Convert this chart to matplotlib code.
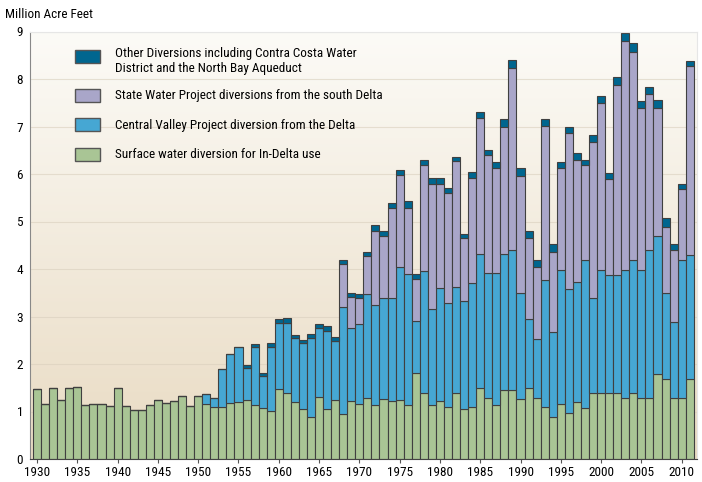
import numpy as np
import matplotlib
matplotlib.use("Agg")
import matplotlib.pyplot as plt
from matplotlib import font_manager
from matplotlib.patches import Rectangle

# ---------------- data ----------------
years = list(range(1930, 2012))

in_delta = [1.47, 1.16, 1.49, 1.24, 1.49, 1.52, 1.13, 1.15, 1.15, 1.12,
            1.50, 1.12, 1.04, 1.03, 1.14, 1.24, 1.18, 1.23, 1.33, 1.12,
            1.33, 1.16, 1.09, 1.10, 1.17, 1.21, 1.25, 1.14, 1.08, 1.02,
            1.47, 1.38, 1.19, 1.06, 0.88, 1.31, 1.05, 1.24, 0.94, 1.22,
            1.16, 1.28, 1.13, 1.27, 1.22, 1.24, 1.14, 1.82, 1.38, 1.13,
            1.22, 1.10, 1.38, 1.05, 1.10, 1.50, 1.28, 1.14, 1.45, 1.45,
            1.26, 1.49, 1.29, 1.10, 0.89, 1.15, 0.97, 1.21, 1.08, 1.38,
            1.38, 1.38, 1.38, 1.28, 1.38, 1.28, 1.28, 1.78, 1.68, 1.28,
            1.28, 1.68]

cvp = [0.00, 0.00, 0.00, 0.00, 0.00, 0.00, 0.00, 0.00, 0.00, 0.00,
       0.00, 0.00, 0.00, 0.00, 0.00, 0.00, 0.00, 0.00, 0.00, 0.00,
       0.00, 0.20, 0.19, 0.80, 1.05, 1.15, 0.66, 1.22, 0.67, 1.34,
       1.39, 1.49, 1.35, 1.38, 1.67, 1.44, 1.64, 1.24, 2.25, 1.53,
       1.68, 2.19, 2.11, 2.13, 2.18, 2.81, 2.76, 1.09, 2.57, 2.02,
       2.38, 2.18, 2.25, 2.28, 2.60, 2.81, 2.63, 2.77, 2.86, 2.96,
       2.23, 1.46, 1.24, 2.67, 1.78, 2.83, 2.60, 2.52, 3.10, 2.00,
       2.60, 2.49, 2.49, 2.70, 2.80, 2.70, 3.11, 2.91, 1.81, 1.61,
       2.91, 2.61]

swp = [0.00, 0.00, 0.00, 0.00, 0.00, 0.00, 0.00, 0.00, 0.00, 0.00,
       0.00, 0.00, 0.00, 0.00, 0.00, 0.00, 0.00, 0.00, 0.00, 0.00,
       0.00, 0.00, 0.00, 0.00, 0.00, 0.00, 0.00, 0.00, 0.00, 0.00,
       0.00, 0.00, 0.00, 0.00, 0.00, 0.00, 0.00, 0.00, 0.91, 0.67,
       0.56, 0.81, 1.57, 1.29, 1.89, 1.93, 1.39, 0.88, 2.24, 2.64,
       2.19, 2.31, 2.64, 1.32, 2.22, 2.86, 2.48, 2.22, 2.69, 3.83,
       2.47, 1.71, 1.52, 3.24, 1.69, 2.15, 3.29, 2.56, 2.00, 3.30,
       3.51, 2.02, 4.00, 4.81, 4.39, 3.40, 3.29, 2.69, 1.40, 1.50,
       1.49, 3.99]

other = [0.00, 0.00, 0.00, 0.00, 0.00, 0.00, 0.00, 0.00, 0.00, 0.00,
         0.00, 0.00, 0.00, 0.00, 0.00, 0.00, 0.00, 0.00, 0.00, 0.00,
         0.00, 0.00, 0.00, 0.00, 0.00, 0.00, 0.07, 0.07, 0.07, 0.09,
         0.08, 0.09, 0.07, 0.07, 0.08, 0.09, 0.10, 0.08, 0.10, 0.07,
         0.07, 0.08, 0.11, 0.11, 0.10, 0.10, 0.14, 0.11, 0.10, 0.12,
         0.12, 0.11, 0.09, 0.09, 0.12, 0.13, 0.12, 0.13, 0.15, 0.16,
         0.16, 0.14, 0.15, 0.15, 0.16, 0.13, 0.14, 0.16, 0.12, 0.14,
         0.15, 0.14, 0.18, 0.17, 0.18, 0.16, 0.16, 0.18, 0.18, 0.14,
         0.10, 0.10]

series_labels = [
    "Surface water diversion for In-Delta use",
    "Central Valley Project diversion from the Delta",
    "State Water Project diversions from the south Delta",
    "Other Diversions including Contra Costa Water\nDistrict and the North Bay Aqueduct",
]
y_label = "Million Acre Feet"
x_ticks = list(range(1930, 2011, 5))
y_ticks = list(range(0, 10))

# ---------------- style ----------------
avail = {f.name for f in font_manager.fontManager.ttflist}
narrow_font = None
for cand in ["Liberation Sans Narrow", "Arial Narrow", "Roboto Condensed",
             "Open Sans Condensed", "Noto Sans Condensed"]:
    if cand in avail:
        narrow_font = cand
        break
if narrow_font is not None:
    base_font, fs = narrow_font, 9.5
else:
    base_font = "Liberation Sans" if "Liberation Sans" in avail else "DejaVu Sans"
    fs = 8.2
plt.rcParams["font.family"] = [base_font, "DejaVu Sans"]

colors = ["#a9c595", "#46a7d3", "#a9a6c9", "#00668f"]
edge = "#404040"

W, H = 702, 482
fig = plt.figure(figsize=(W / 100, H / 100), dpi=100)
fig.patch.set_facecolor("white")

px_l, px_r, px_t, px_b = 30, 697, 31.5, 459
ax = fig.add_axes([px_l / W, (H - px_b) / H, (px_r - px_l) / W, (px_b - px_t) / H])

# gradient background
grad = np.linspace(0, 1, 256).reshape(-1, 1)
top_c = np.array([252, 251, 247]) / 255
bot_c = np.array([233, 219, 195]) / 255
img = top_c[None, None, :] * (1 - grad[:, :, None]) + bot_c[None, None, :] * grad[:, :, None]
ax.imshow(img, extent=[0, 1, 0, 1], transform=ax.transAxes, aspect="auto", zorder=0)

ax.set_xlim(1929.13, 2011.9)
ax.set_ylim(0, 9)

for yv in y_ticks[1:]:
    ax.axhline(yv, color="#d9cfbd", lw=0.8, alpha=0.6, zorder=0.5)

x = np.array(years)
bottom = np.zeros(len(years))
for vals, col in zip([in_delta, cvp, swp, other], colors):
    v = np.array(vals)
    ax.bar(x, v, width=1.0, bottom=bottom, color=col, edgecolor=edge,
           linewidth=0.8, zorder=2)
    bottom = bottom + v

ax.set_xticks(x_ticks)
ax.set_xticklabels([str(t) for t in x_ticks], fontsize=fs)
ax.set_yticks(y_ticks)
ax.set_yticklabels([str(t) for t in y_ticks], fontsize=fs)
ax.tick_params(axis="y", length=0, pad=5)
ax.tick_params(axis="x", length=3, color="#555555", pad=2)

ax.spines["left"].set_color("#888888")
ax.spines["bottom"].set_color("#444444")
ax.spines["top"].set_color("#e6e6e6")
ax.spines["right"].set_color("#e6e6e6")

fig.text(5 / W, 1 - 14 / H, y_label, fontsize=fs, va="center", ha="left")

# legend (manual)
entries = [
    (3, 50, [53, 69]),
    (2, 89, [96]),
    (1, 118, [125]),
    (0, 148, [155]),
]
for idx, ytop, _ in entries:
    r = Rectangle((75 / W, 1 - (ytop + 13) / H), 25 / W, 13 / H,
                  transform=fig.transFigure, facecolor=colors[idx],
                  edgecolor="#555555", linewidth=1.0, zorder=5)
    fig.patches.append(r)
for idx, ytop, lines in entries:
    for ln, yy in zip(series_labels[idx].split("\n"), lines):
        fig.text(115 / W, 1 - yy / H, ln, fontsize=fs, va="center", ha="left", zorder=6)

fig.savefig("out.png", dpi=100)
